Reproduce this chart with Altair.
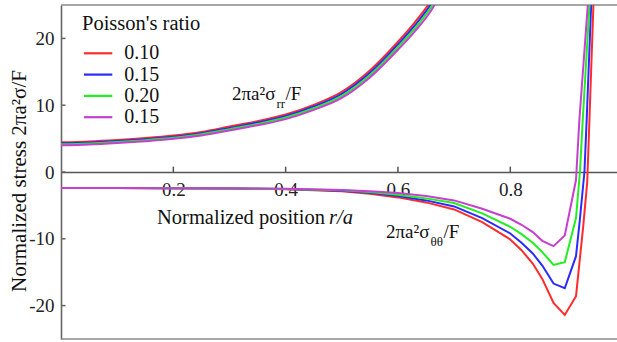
import altair as alt
import pandas as pd

FONT = "Liberation Serif, Times New Roman, Times, serif"

# ---------------- data ----------------
series_keys = ["s1", "s2", "s3", "s4"]
legend_labels = ["0.10", "0.15", "0.20", "0.15"]
legend_title = "Poisson's ratio"
colors = ["#ff2b2b", "#2a2aff", "#22ee22", "#c63fd0"]

# sigma_rr curves
x_rr = [0, 0.05, 0.1, 0.15, 0.2, 0.25, 0.3, 0.35, 0.4, 0.45, 0.5, 0.55, 0.6, 0.63, 0.66, 0.69]
rr_s1 = [4.45, 4.58, 4.80, 5.08, 5.45, 6.00, 6.80, 7.60, 8.60, 10.05, 12.00, 15.20, 19.50, 22.40, 25.80, 30.5]
rr_s2 = [4.30, 4.43, 4.65, 4.92, 5.28, 5.82, 6.60, 7.40, 8.38, 9.80, 11.70, 14.85, 19.10, 21.95, 25.30, 30.0]
rr_s3 = [4.15, 4.28, 4.50, 4.77, 5.12, 5.65, 6.42, 7.20, 8.15, 9.55, 11.40, 14.50, 18.70, 21.50, 24.80, 29.5]
rr_s4 = [4.00, 4.13, 4.35, 4.62, 4.96, 5.48, 6.22, 7.00, 7.92, 9.30, 11.10, 14.15, 18.30, 21.05, 24.30, 29.0]

# sigma_theta_theta curves
x_tt = [0, 0.1, 0.2, 0.3, 0.4, 0.5, 0.55, 0.6, 0.65, 0.7, 0.75, 0.8, 0.82, 0.84, 0.857, 0.877, 0.897, 0.917]
tt_s1 = [-2.40, -2.41, -2.43, -2.48, -2.58, -2.90, -3.25, -3.80, -4.55, -5.60, -7.50, -10.10, -11.70, -13.70, -16.00, -19.60, -21.40, -18.60]
tt_s2 = [-2.40, -2.41, -2.43, -2.47, -2.56, -2.82, -3.12, -3.60, -4.25, -5.15, -6.90, -9.20, -10.60, -12.20, -14.00, -16.70, -17.40, -12.60]
tt_s3 = [-2.40, -2.41, -2.42, -2.46, -2.54, -2.75, -3.00, -3.40, -3.95, -4.65, -6.20, -8.20, -9.30, -10.60, -12.00, -13.90, -13.50, -6.90]
tt_s4 = [-2.40, -2.41, -2.42, -2.45, -2.52, -2.70, -2.90, -3.15, -3.60, -4.25, -5.50, -7.00, -7.90, -9.00, -10.30, -11.10, -9.50, -1.20]

tail_x_s1 = [0.930, 0.937, 0.941, 0.948, 0.952]
tail_s1 = [-8.0, -1.5, 8.0, 25.0, 32.0]
tail_x_s2 = [0.924, 0.932, 0.936, 0.944, 0.948]
tail_s2 = [-7.0, 0.0, 7.8, 25.0, 32.0]
tail_x_s3 = [0.924, 0.929, 0.941, 0.945]
tail_s3 = [0.0, 7.8, 25.0, 32.0]
tail_x_s4 = [0.923, 0.938, 0.942]
tail_s4 = [7.8, 25.0, 32.0]

x_ticks = [0.2, 0.4, 0.6, 0.8]
y_ticks = [-20, -10, 0, 10, 20]

# ---------------- build tables ----------------
rr_all = [rr_s1, rr_s2, rr_s3, rr_s4]
tt_all = [tt_s1, tt_s2, tt_s3, tt_s4]
tails_x = [tail_x_s1, tail_x_s2, tail_x_s3, tail_x_s4]
tails_y = [tail_s1, tail_s2, tail_s3, tail_s4]

rr_rows, tt_rows = [], []
for i, key in enumerate(series_keys):
    for xv, yv in zip(x_rr, rr_all[i]):
        rr_rows.append({"series": key, "x": xv, "y": yv})
    for xv, yv in zip(x_tt + tails_x[i], tt_all[i] + tails_y[i]):
        tt_rows.append({"series": key, "x": xv, "y": yv})
df_rr = pd.DataFrame(rr_rows)
df_tt = pd.DataFrame(tt_rows)

W, H = 556, 334
XMAX = 0.99
xscale = alt.Scale(domain=[0, XMAX], nice=False, zero=False)
yscale = alt.Scale(domain=[-25, 25], nice=False, zero=False)
cscale = alt.Scale(domain=series_keys, range=colors)

xaxis = alt.Axis(title=None, values=x_ticks, format=".1f", orient="bottom",
                 offset=-H / 2, ticks=False, tickSize=0, grid=False,
                 domainColor="#555", domainWidth=1.6,
                 labelFont=FONT, labelFontSize=19, labelColor="#222",
                 labelPadding=8)
yaxis = alt.Axis(title=None, values=y_ticks, labelExpr="'' + datum.value",
                 ticks=False, tickSize=0, grid=False,
                 domainColor="#666", domainWidth=1.6,
                 labelFont=FONT, labelFontSize=19, labelColor="#222",
                 labelPadding=7)

rr_lines = alt.Chart(df_rr).mark_line(strokeWidth=2, clip=True, interpolate="monotone").encode(
    x=alt.X("x:Q", scale=xscale, axis=xaxis),
    y=alt.Y("y:Q", scale=yscale, axis=yaxis),
    color=alt.Color("series:N", scale=cscale, legend=None),
    order="x:Q",
)
tt_lines = alt.Chart(df_tt).mark_line(strokeWidth=2, clip=True).encode(
    x=alt.X("x:Q", scale=xscale),
    y=alt.Y("y:Q", scale=yscale),
    color=alt.Color("series:N", scale=cscale, legend=None),
    order="x:Q",
)

xt = pd.DataFrame({"x": x_ticks})
yt = pd.DataFrame({"y": y_ticks})
x_tick_marks = alt.Chart(xt).mark_rule(color="#555", strokeWidth=1.5).encode(
    x=alt.X("x:Q", scale=xscale), y=alt.datum(0), y2=alt.datum(0.8))
y_tick_marks = alt.Chart(yt).mark_rule(color="#666", strokeWidth=1.5).encode(
    y=alt.Y("y:Q", scale=yscale), x=alt.datum(0), x2=alt.datum(0.008))

frame = pd.DataFrame({"y": [25, -25]})
frame_marks = alt.Chart(frame).mark_rule(color="#888", strokeWidth=1.6).encode(
    y=alt.Y("y:Q", scale=yscale), x=alt.datum(0), x2=alt.datum(XMAX))

# ---------------- legend (drawn through the same colour scale) ----------------
px_per_unit_y = H / 50.0
px_per_unit_x = W / XMAX
leg_df = pd.DataFrame({
    "series": series_keys,
    "label": legend_labels,
    "ly": [25 - (48.3 + 21.3 * i) / px_per_unit_y for i in range(len(series_keys))],
})
leg_sym = alt.Chart(leg_df).mark_rule(strokeWidth=2.2).encode(
    x=alt.datum(23 / px_per_unit_x), x2=alt.datum(51.3 / px_per_unit_x),
    y=alt.Y("ly:Q", scale=yscale),
    color=alt.Color("series:N", scale=cscale, legend=None),
)
leg_txt = alt.Chart(leg_df).mark_text(font=FONT, fontSize=20, align="left",
                                      baseline="middle", color="#111").encode(
    x=alt.datum(63.3 / px_per_unit_x),
    y=alt.Y("ly:Q", scale=yscale),
    text="label:N",
)

one = pd.DataFrame({"a": [0]})


def txt(s, x, y, size, italic=False, align="left", baseline="alphabetic", angle=0):
    kw = dict(text=s, font=FONT, fontSize=size, align=align, baseline=baseline,
              color="#111", fontStyle="italic" if italic else "normal")
    if angle:
        kw["angle"] = angle
    return alt.Chart(one).mark_text(**kw).encode(x=alt.value(x), y=alt.value(y))


texts = [
    txt(legend_title, 21, 19, 20.5, baseline="middle"),
    txt("2πa²σ", 171, 95, 19),
    txt("rr", 215.5, 103, 13),
    txt("/F", 224.5, 95, 19),
    txt("2πa²σ", 325, 233, 19),
    txt("θθ", 369.5, 241, 13),
    txt("/F", 382.5, 233, 19),
    txt("Normalized position", 264, 213, 20.5, align="right", baseline="middle"),
    txt("r/a", 268, 213, 20.5, italic=True, baseline="middle"),
    txt("Normalized stress 2πa²σ/F", -41, 176, 21, align="center", baseline="middle", angle=270),
]

chart = alt.layer(frame_marks, rr_lines, tt_lines, x_tick_marks, y_tick_marks,
                  leg_sym, leg_txt, *texts).properties(
    width=W, height=H,
    padding={"left": 61, "top": 5, "right": 0, "bottom": 3},
    autosize=alt.AutoSizeParams(type="none"),
    background="white",
).configure(font=FONT).configure_view(stroke=None)

chart.save("out.html", embed_options={"renderer": "svg", "actions": False})
